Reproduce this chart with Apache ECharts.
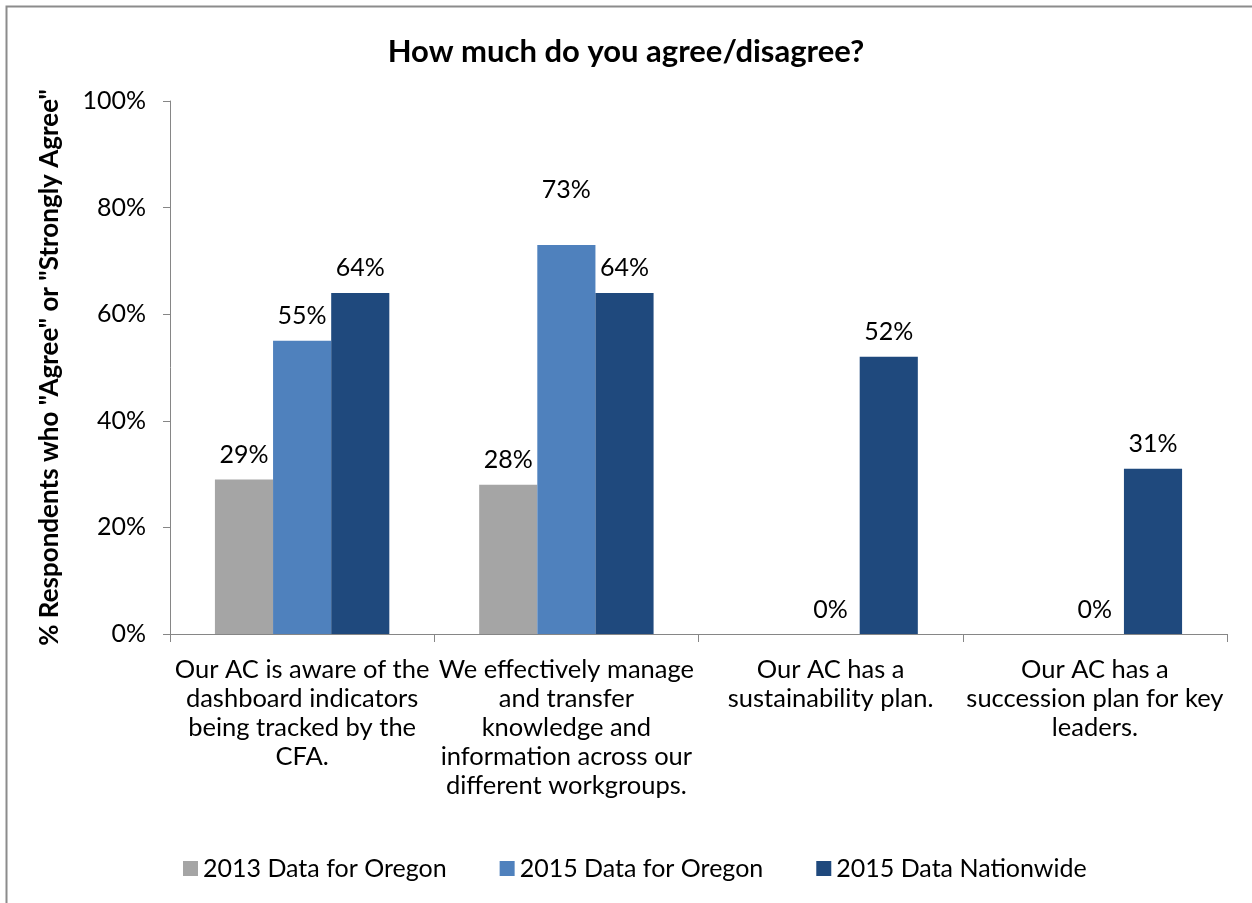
<!DOCTYPE html>
<html>
<head>
<meta charset="utf-8">
<script src="https://cdn.jsdelivr.net/npm/echarts@6/dist/echarts.min.js"></script>
<style>
  html, body { margin: 0; padding: 0; background: #fff; }
  #chart { width: 1252px; height: 903px; }
</style>
</head>
<body>
<div id="chart"></div>
<script>
// Survey statements (x-axis categories)
const categories = [
  'Our AC is aware of the\ndashboard indicators\nbeing tracked by the\nCFA.',
  'We effectively manage\nand transfer\nknowledge and\ninformation across our\ndifferent workgroups.',
  'Our AC has a\nsustainability plan.',
  'Our AC has a\nsuccession plan for key\nleaders.'
];
const seriesNames = ['2013 Data for Oregon', '2015 Data for Oregon', '2015 Data Nationwide'];
// Percent of respondents who agree or strongly agree
const oregon2013 = [29, 28, null, null];
const oregon2015 = [55, 73, 0, 0];
const nationwide2015 = [64, 64, 52, 31];
const yTicks = [0, 20, 40, 60, 80, 100];

const FONT = 'Lato, "Open Sans", sans-serif';
const colors = ['#A5A5A5', '#4F81BD', '#1F497D'];
const axisGray = '#868686';

const chart = echarts.init(document.getElementById('chart'));

// The 73% label sits higher above its bar so it clears the neighbouring 64% label
const raisedLabel = { series: 1, index: 1, distance: 42 };

function barSeries(si, data, color) {
  return {
    name: seriesNames[si],
    type: 'bar',
    data: data.map((v, i) =>
      (si === raisedLabel.series && i === raisedLabel.index)
        ? { value: v, label: { distance: raisedLabel.distance } }
        : v),
    barGap: '0%',
    barCategoryGap: '34%',
    itemStyle: { color: color },
    label: {
      show: true,
      position: 'top',
      distance: 12,
      formatter: p => (p.value === null || p.value === undefined) ? '' : p.value + '%',
      color: '#000',
      fontFamily: FONT,
      fontSize: 25
    }
  };
}

chart.setOption({
  backgroundColor: '#fff',
  animation: false,
  graphic: [{
    type: 'rect',
    shape: { x: 6.5, y: 6.5, width: 1260, height: 910 },
    style: { fill: 'none', stroke: '#8C8C8C', lineWidth: 2 },
    silent: true
  }],
  title: {
    text: 'How much do you agree/disagree?',
    left: 'center',
    top: 31,
    textStyle: { fontFamily: FONT, fontSize: 31, fontWeight: 'bold', color: '#000' }
  },
  legend: {
    data: seriesNames,
    left: 178,
    top: 851,
    itemWidth: 15,
    itemHeight: 15,
    itemGap: 53,
    icon: 'rect',
    textStyle: { fontFamily: FONT, fontSize: 25, color: '#000' }
  },
  grid: { left: 170, right: 25, top: 101, bottom: 269, containLabel: false },
  xAxis: {
    type: 'category',
    data: categories,
    axisLine: { lineStyle: { color: axisGray, width: 1 } },
    axisTick: { show: true, length: 8, alignWithLabel: false, lineStyle: { color: axisGray } },
    axisLabel: {
      interval: 0,
      margin: 21,
      color: '#000',
      fontFamily: FONT,
      fontSize: 25.5,
      lineHeight: 29,
      align: 'center'
    }
  },
  yAxis: {
    type: 'value',
    min: 0,
    max: 100,
    interval: 20,
    name: '% Respondents who "Agree" or "Strongly Agree"',
    nameLocation: 'middle',
    nameGap: 107,
    nameTextStyle: { fontFamily: FONT, fontSize: 26, fontWeight: 'bold', color: '#000' },
    axisLine: { show: true, lineStyle: { color: axisGray, width: 1 } },
    axisTick: { show: true, length: 7, lineStyle: { color: axisGray } },
    splitLine: { show: false },
    axisLabel: {
      margin: 24,
      color: '#000',
      fontFamily: FONT,
      fontSize: 25,
      formatter: v => yTicks.includes(v) ? v + '%' : ''
    }
  },
  series: [
    barSeries(0, oregon2013, colors[0]),
    barSeries(1, oregon2015, colors[1]),
    barSeries(2, nationwide2015, colors[2])
  ]
});
</script>
</body>
</html>
